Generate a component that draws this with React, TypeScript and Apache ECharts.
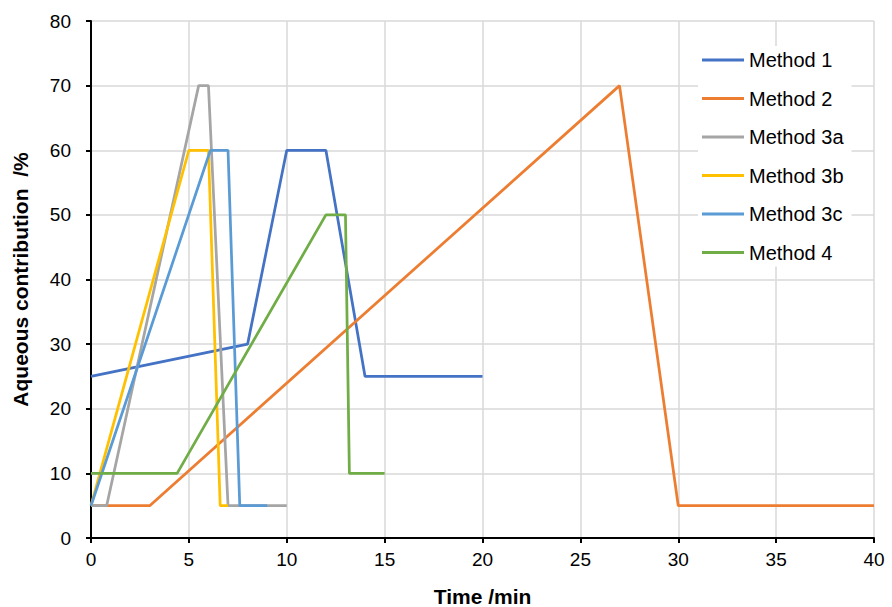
import React, { useEffect, useRef } from "react";
import * as echarts from "echarts";

const seriesNames = ["Method 1", "Method 2", "Method 3a", "Method 3b", "Method 3c", "Method 4"];
const colors = ["#4472C4", "#ED7D31", "#A5A5A5", "#FFC000", "#5B9BD5", "#70AD47"];

const method1: [number, number][] = [[0, 25], [8, 30], [10, 60], [12, 60], [14, 25], [20, 25]];
const method2: [number, number][] = [[0, 5], [3, 5], [27, 70], [30, 5], [40, 5]];
const method3a: [number, number][] = [[0, 5], [0.8, 5], [5.5, 70], [6, 70], [7, 5], [10, 5]];
const method3b: [number, number][] = [[0, 5], [5, 60], [6, 60], [6.6, 5], [7, 5]];
const method3c: [number, number][] = [[0, 5], [6.1, 60], [7, 60], [7.6, 5], [9, 5]];
const method4: [number, number][] = [[0, 10], [4.4, 10], [12, 50], [13, 50], [13.2, 10], [15, 10]];

const allData = [method1, method2, method3a, method3b, method3c, method4];

export default function App() {
  const ref = useRef<HTMLDivElement>(null);
  useEffect(() => {
    if (!ref.current) return;
    const chart = echarts.init(ref.current, undefined, { renderer: "svg" });
    const font = "Liberation Sans, Arial, sans-serif";
    chart.setOption({
      animation: false,
      backgroundColor: "#fff",
      textStyle: { fontFamily: font },
      grid: { left: 91, right: 18, top: 21, bottom: 69, containLabel: false, outerBoundsMode: "none" },
      legend: {
        orient: "vertical",
        left: 698,
        top: 46,
        itemWidth: 42,
        itemHeight: 14,
        itemGap: 18.5,
        backgroundColor: "#fff",
        padding: [4, 8, 4, 4],
        icon: "path://M0,0 L42,0 L42,3 L0,3 Z",
        textStyle: { fontSize: 20, color: "#000", fontFamily: font },
        data: seriesNames,
      },
      xAxis: {
        type: "value",
        min: 0,
        max: 40,
        interval: 5,
        name: "Time /min",
        nameLocation: "middle",
        nameGap: 48,
        nameTextStyle: { fontSize: 21, fontWeight: "bold", color: "#000", fontFamily: font },
        axisLine: { show: true, lineStyle: { color: "#000", width: 2 } },
        axisTick: { show: true, length: 5, lineStyle: { color: "#000", width: 2 } },
        axisLabel: { fontSize: 19, color: "#000", margin: 12, fontFamily: font },
        splitLine: { show: true, lineStyle: { color: "#d9d9d9", width: 1.5 } },
      },
      yAxis: {
        type: "value",
        min: 0,
        max: 80,
        interval: 10,
        name: "Aqueous contribution  /%",
        nameLocation: "middle",
        nameGap: 60,
        nameRotate: 90,
        nameTextStyle: { fontSize: 21, fontWeight: "bold", color: "#000", fontFamily: font },
        axisLine: { show: true, lineStyle: { color: "#000", width: 2 } },
        axisTick: { show: true, length: 5, lineStyle: { color: "#000", width: 2 } },
        axisLabel: { fontSize: 19, color: "#000", margin: 20, fontFamily: font },
        splitLine: { show: true, lineStyle: { color: "#d9d9d9", width: 1.5 } },
      },
      series: seriesNames.map((n, i) => ({
        name: n,
        type: "line",
        data: allData[i],
        symbol: "none",
        color: colors[i],
        lineStyle: { color: colors[i], width: 2.75 },
      })),
    });
    return () => chart.dispose();
  }, []);
  return <div ref={ref} style={{ width: 892, height: 607, position: "absolute", left: 0, top: 0 }} />;
}
